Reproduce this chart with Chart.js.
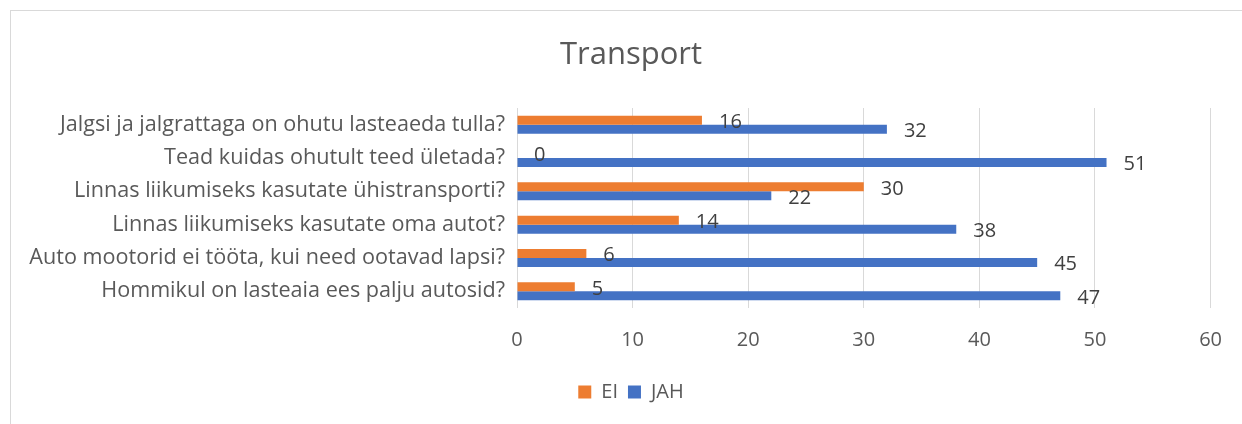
<!DOCTYPE html>
<html>
<head>
    <title>Transport</title>
    <script src="https://cdn.jsdelivr.net/npm/chart.js"></script>
    <style>
        html, body { margin: 0; padding: 0; background: #fff; }
        .frame { position: absolute; left: 10px; top: 10px; width: 1240px; height: 420px;
                 border-left: 1px solid #d9d9d9; border-top: 1px solid #d9d9d9; }
        .chart-container { position: absolute; left: 0; top: 0; width: 1242px; height: 424px; }
    </style>
</head>
<body>
    <div class="frame"></div>
    <div class="chart-container">
        <canvas id="chart" width="1242" height="424"></canvas>
    </div>

    <script>
        // kategooriad (ülevalt alla)
        var categories = [
            'Jalgsi ja jalgrattaga on ohutu lasteaeda tulla?',
            'Tead kuidas ohutult teed ületada?',
            'Linnas liikumiseks kasutate ühistransporti?',
            'Linnas liikumiseks kasutate oma autot?',
            'Auto mootorid ei tööta, kui need ootavad lapsi?',
            'Hommikul on lasteaia ees palju autosid?'
        ];
        var eiValues = [16, 0, 30, 14, 6, 5];
        var jahValues = [32, 51, 22, 38, 45, 47];
        var xTicks = [0, 10, 20, 30, 40, 50, 60];

        var FONT = '"Open Sans", sans-serif';

        // väärtuste sildid tulpade lõppu
        var valueLabels = {
            id: 'valueLabels',
            afterDatasetsDraw: function(chart) {
                var ctx = chart.ctx;
                ctx.save();
                ctx.font = '20px ' + FONT;
                ctx.fillStyle = '#404040';
                ctx.textAlign = 'left';
                ctx.textBaseline = 'middle';
                chart.data.datasets.forEach(function(ds, i) {
                    chart.getDatasetMeta(i).data.forEach(function(bar, j) {
                        ctx.fillText(String(ds.data[j]), bar.x + 17, bar.y + 2);
                    });
                });
                ctx.restore();
            }
        };

        var ctx = document.getElementById('chart').getContext('2d');
        var chart = new Chart(ctx, {
            type: 'bar',
            data: {
                labels: categories,
                datasets: [
                    {
                        label: 'EI',
                        data: eiValues,
                        backgroundColor: '#ED7D31',
                        borderWidth: 0,
                        categoryPercentage: 0.54,
                        barPercentage: 1.0
                    },
                    {
                        label: 'JAH',
                        data: jahValues,
                        backgroundColor: '#4472C4',
                        borderWidth: 0,
                        categoryPercentage: 0.54,
                        barPercentage: 1.0
                    }
                ]
            },
            options: {
                indexAxis: 'y',
                responsive: false,
                animation: false,
                layout: { padding: { top: 10, right: 0, bottom: 12, left: 20 } },
                plugins: {
                    title: {
                        display: true,
                        text: 'Transport',
                        color: '#595959',
                        font: { family: FONT, size: 31, weight: 'normal' },
                        padding: { top: 27, bottom: 33.8 }
                    },
                    legend: {
                        position: 'bottom',
                        labels: {
                            color: '#595959',
                            font: { family: FONT, size: 20 },
                            boxWidth: 13,
                            boxHeight: 13,
                            padding: 10
                        }
                    },
                    tooltip: { enabled: false }
                },
                scales: {
                    x: {
                        min: 0,
                        max: 60,
                        afterBuildTicks: function(scale) {
                            scale.ticks = xTicks.map(function(v) { return { value: v }; });
                        },
                        afterFit: function(scale) { scale.height = 64; },
                        grid: { color: '#d9d9d9', lineWidth: 1, drawTicks: false },
                        border: { display: false },
                        ticks: {
                            color: '#595959',
                            font: { family: FONT, size: 20 },
                            padding: 20
                        }
                    },
                    y: {
                        afterFit: function(scale) { scale.width = 497; },
                        grid: { display: false, drawTicks: false },
                        border: { display: false },
                        ticks: {
                            color: '#595959',
                            font: { family: FONT, size: 21.6 },
                            padding: 12,
                            autoSkip: false
                        }
                    },
                    // tühi parem telg, et jätta joonise paremale servale ruumi
                    yRight: {
                        position: 'right',
                        axis: 'y',
                        afterFit: function(scale) { scale.width = 29; },
                        grid: { display: false, drawTicks: false },
                        border: { display: false },
                        ticks: { display: false }
                    }
                }
            },
            plugins: [valueLabels]
        });
    </script>
</body>
</html>
